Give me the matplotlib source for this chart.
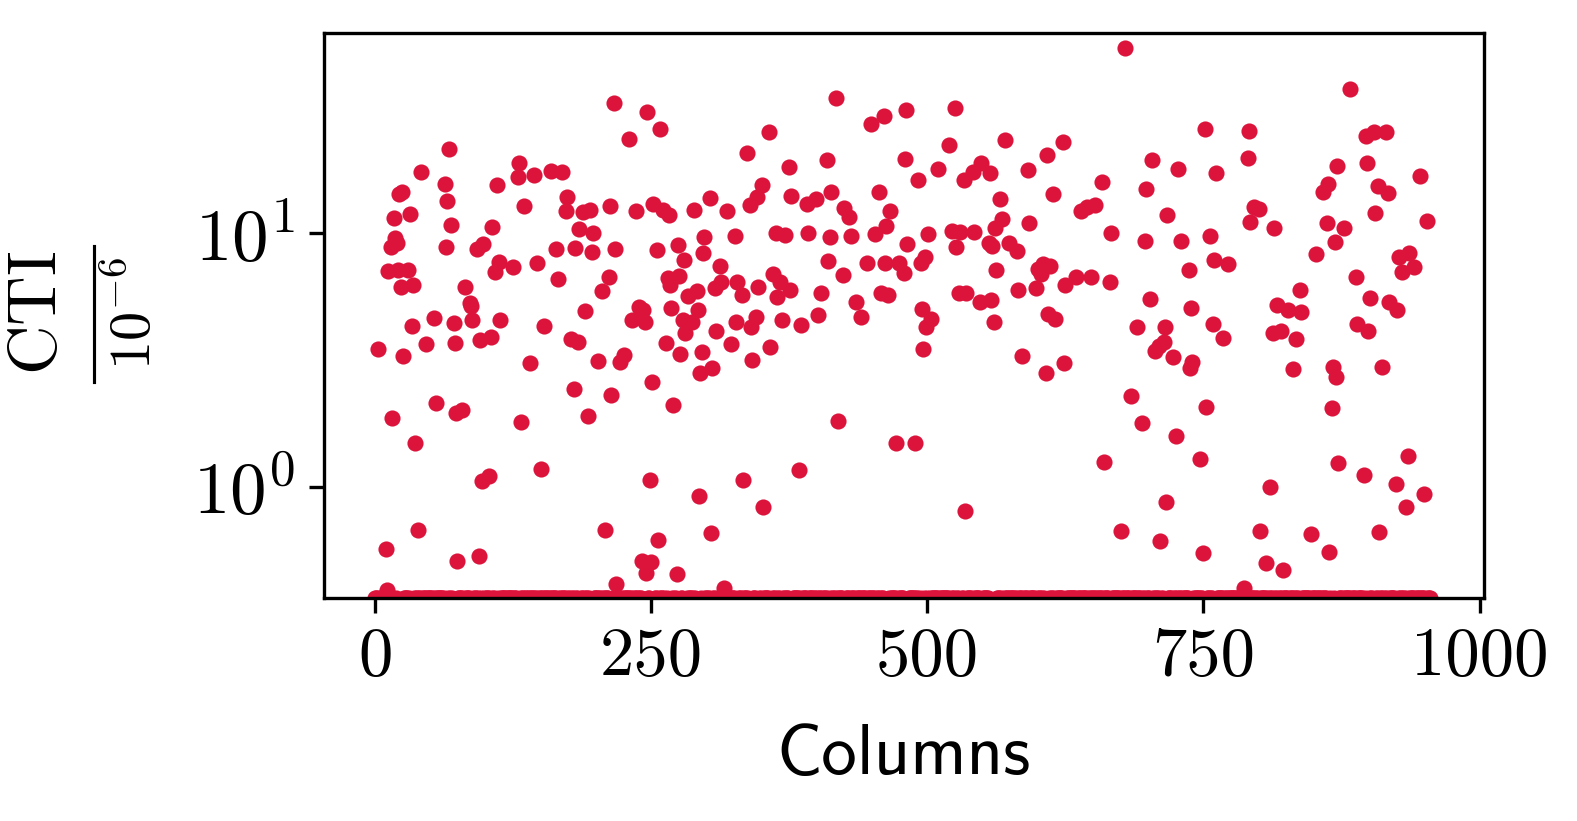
import numpy as np
import matplotlib
matplotlib.use("Agg")
import matplotlib.pyplot as plt
from matplotlib.lines import Line2D

plt.rcParams["mathtext.fontset"] = "cm"
plt.rcParams["font.family"] = "serif"
plt.rcParams["font.serif"] = ["cmr10"]
plt.rcParams["axes.unicode_minus"] = False
plt.rcParams["font.size"] = 16

N_COLUMNS = 956

# columns with a non-zero CTI, and the CTI there (in units of 1e-6)
hot_columns = [
    3, 10, 11, 12, 14, 15, 17, 18, 20, 21, 22, 23, 24, 25, 30, 32, 33, 34, 36, 39,
    42, 46, 53, 55, 63, 64, 65, 67, 69, 71, 72, 73, 74, 79, 81, 86, 87, 88, 92, 94,
    95, 97, 98, 103, 105, 106, 109, 110, 112, 113, 125, 129, 130, 132, 135, 140, 144, 147, 150, 153,
    159, 164, 166, 169, 173, 174, 177, 180, 181, 184, 185, 188, 190, 193, 195, 196, 197, 202, 205, 208,
    212, 213, 214, 216, 217, 218, 222, 225, 230, 233, 236, 239, 242, 243, 244, 245, 246, 249, 250, 251,
    252, 255, 256, 258, 261, 263, 265, 266, 267, 268, 270, 273, 274, 275, 276, 279, 280, 281, 283, 287,
    289, 291, 292, 293, 294, 296, 297, 298, 303, 304, 305, 308, 309, 312, 313, 316, 319, 322, 326, 327,
    328, 332, 333, 337, 339, 340, 341, 345, 346, 347, 350, 351, 357, 358, 360, 363, 364, 367, 368, 371,
    375, 376, 377, 384, 386, 391, 392, 399, 401, 404, 409, 410, 412, 413, 417, 419, 424, 425, 429, 431,
    435, 440, 445, 449, 453, 456, 458, 461, 462, 463, 464, 466, 472, 474, 479, 480, 481, 482, 489, 492,
    494, 495, 496, 498, 499, 501, 503, 510, 520, 522, 525, 526, 529, 530, 533, 534, 535, 541, 542, 548,
    549, 556, 557, 558, 559, 560, 561, 562, 566, 568, 570, 574, 581, 582, 586, 591, 592, 598, 600, 603,
    605, 607, 608, 609, 611, 614, 616, 623, 624, 625, 635, 639, 645, 648, 652, 658, 660, 665, 666, 675,
    679, 684, 690, 694, 697, 698, 702, 703, 706, 710, 711, 714, 715, 716, 717, 722, 725, 727, 730, 737,
    738, 739, 740, 747, 750, 751, 752, 756, 759, 760, 761, 768, 772, 787, 790, 791, 792, 796, 800, 801,
    807, 810, 813, 814, 817, 820, 822, 827, 831, 834, 837, 838, 847, 852, 858, 862, 863, 864, 866, 867,
    869, 870, 871, 872, 877, 883, 888, 889, 895, 897, 898, 899, 901, 904, 905, 908, 909, 912, 915, 917,
    918, 924, 925, 927, 930, 933, 935, 936, 941, 946, 950, 952,
]
hot_cti = [
    3.50, 0.57, 0.39, 7.1, 8.8, 1.87, 11.5, 9.55, 9.14, 7.16, 14.3, 6.12, 14.5, 3.28, 7.16, 11.9, 4.31, 6.25, 1.49, 0.676,
    17.4, 3.66, 4.62, 2.15, 15.7, 8.85, 13.4, 21.6, 10.8, 4.42, 3.68, 1.96, 0.509, 2.01, 6.12, 5.32, 5.17, 4.55, 8.65, 0.533,
    3.79, 1.05, 9.08, 1.10, 3.89, 10.6, 7.06, 15.5, 7.73, 4.55, 7.35, 16.7, 19.0, 1.8, 12.8, 3.07, 17.0, 7.62, 1.18, 4.31,
    17.6, 8.65, 6.59, 17.4, 12.2, 13.9, 3.82, 2.43, 8.73, 3.74, 10.4, 12.1, 4.93, 1.9, 12.4, 8.41, 10.0, 3.13, 5.92, 0.676,
    6.7, 12.8, 2.30, 32.7, 8.65, 0.415, 3.12, 3.31, 23.5, 4.55, 12.2, 5.1, 0.511, 5.0, 4.45, 0.456, 30.1, 1.06, 0.503, 2.58,
    13.0, 8.59, 0.617, 25.8, 12.4, 3.68, 6.65, 11.8, 6.25, 5.06, 2.11, 0.453, 9.0, 6.79, 3.34, 4.55, 7.85, 4.04, 5.66, 4.48,
    12.4, 5.92, 4.98, 0.92, 2.81, 3.40, 8.34, 9.64, 13.8, 0.66, 2.93, 6.06, 4.12, 7.43, 6.41, 0.40, 12.2, 3.66, 9.75, 4.48,
    6.41, 5.71, 1.06, 20.7, 12.9, 4.28, 3.16, 4.69, 13.9, 6.12, 15.5, 0.83, 25.1, 3.55, 6.90, 10.0, 5.60, 6.44, 4.55, 9.85,
    18.2, 5.97, 14.0, 1.16, 4.35, 13.1, 10.0, 13.7, 4.77, 5.80, 19.5, 7.78, 9.7, 14.5, 34.3, 1.81, 6.85, 12.6, 11.6, 9.76,
    5.37, 4.67, 7.62, 26.9, 9.94, 14.5, 5.83, 29.0, 7.66, 10.7, 5.71, 12.2, 1.49, 7.62, 6.95, 19.6, 30.6, 9.07, 1.49, 16.2,
    7.62, 5.01, 3.50, 8.09, 4.26, 9.94, 4.59, 17.9, 22.3, 10.2, 31.1, 8.8, 5.80, 10.15, 16.2, 0.80, 5.83, 17.5, 10.15, 5.37,
    18.9, 9.14, 17.3, 5.45, 8.9, 4.48, 10.5, 7.16, 13.7, 11.4, 23.3, 9.14, 8.51, 5.97, 3.28, 17.8, 11.0, 6.07, 7.2, 6.9,
    7.6, 2.81, 20.3, 4.81, 7.4, 14.3, 4.58, 22.9, 3.07, 6.25, 6.70, 12.2, 12.7, 6.70, 12.9, 16.0, 1.25, 6.41, 10.05, 0.670,
    53.7, 2.28, 4.26, 1.78, 9.35, 14.9, 5.50, 19.5, 3.43, 3.6, 0.611, 3.73, 4.25, 0.867, 11.8, 3.25, 1.58, 18.0, 9.33, 7.16,
    2.93, 5.06, 3.12, 1.29, 0.547, 25.9, 2.06, 9.76, 4.39, 7.85, 17.3, 3.86, 7.57, 0.398, 19.8, 25.3, 11.1, 12.7, 12.5, 0.670,
    0.499, 1.0, 4.04, 10.5, 5.21, 4.10, 0.470, 4.98, 2.92, 3.83, 5.97, 4.88, 0.650, 8.28, 14.6, 11.0, 15.7, 0.555, 2.04, 2.98,
    9.22, 2.71, 18.4, 1.24, 10.5, 37.0, 6.70, 4.37, 1.11, 24.2, 18.9, 4.12, 5.54, 25.2, 12.0, 15.3, 0.662, 2.96, 25.2, 14.4,
    5.37, 1.03, 4.98, 8.04, 7.06, 0.835, 1.32, 8.37, 7.35, 16.8, 0.938, 11.2,
]

x_ticks = [0, 250, 500, 750, 1000]
y_lim = (0.364, 61.5)

columns = np.arange(N_COLUMNS)
cti = np.zeros(N_COLUMNS)
cti[hot_columns] = hot_cti
# columns without CTI sit on the lower edge of the log axis
cti_plot = np.where(cti > 0, cti, y_lim[0])

W, H = 1577, 821
fig = plt.figure(figsize=(W / 300, H / 300), dpi=300)
ax = fig.add_axes([0.2053, 0.2716, 0.7357, 0.6878])

ax.scatter(columns, cti_plot, s=15, color="crimson", linewidths=0)

ax.set_yscale("log")
ax.set_ylim(*y_lim)
ax.set_xlim(-46.5, 1004)
ax.set_xticks(x_ticks)
ax.minorticks_off()
ax.tick_params(axis="x", labelsize=16.5)
ax.tick_params(axis="y", labelsize=17.5)

ax.set_xlabel("Columns", fontfamily="cmss10", fontsize=17, labelpad=8.5)

# y label: CTI over 10^-6, built as a stacked fraction
y_mid = 1 - 313 / H
fig.text(38.7 / W, y_mid, r"$\mathrm{CTI}$", rotation=90, ha="center", va="center", fontsize=16.5)
fig.add_artist(Line2D([93.5 / W, 93.5 / W], [1 - 246 / H, 1 - 382 / H],
                      transform=fig.transFigure, color="black", linewidth=0.75))
fig.text(133 / W, y_mid, r"$10^{-6}$", rotation=90, ha="center", va="center", fontsize=14)

fig.savefig("out.png", dpi=300)
